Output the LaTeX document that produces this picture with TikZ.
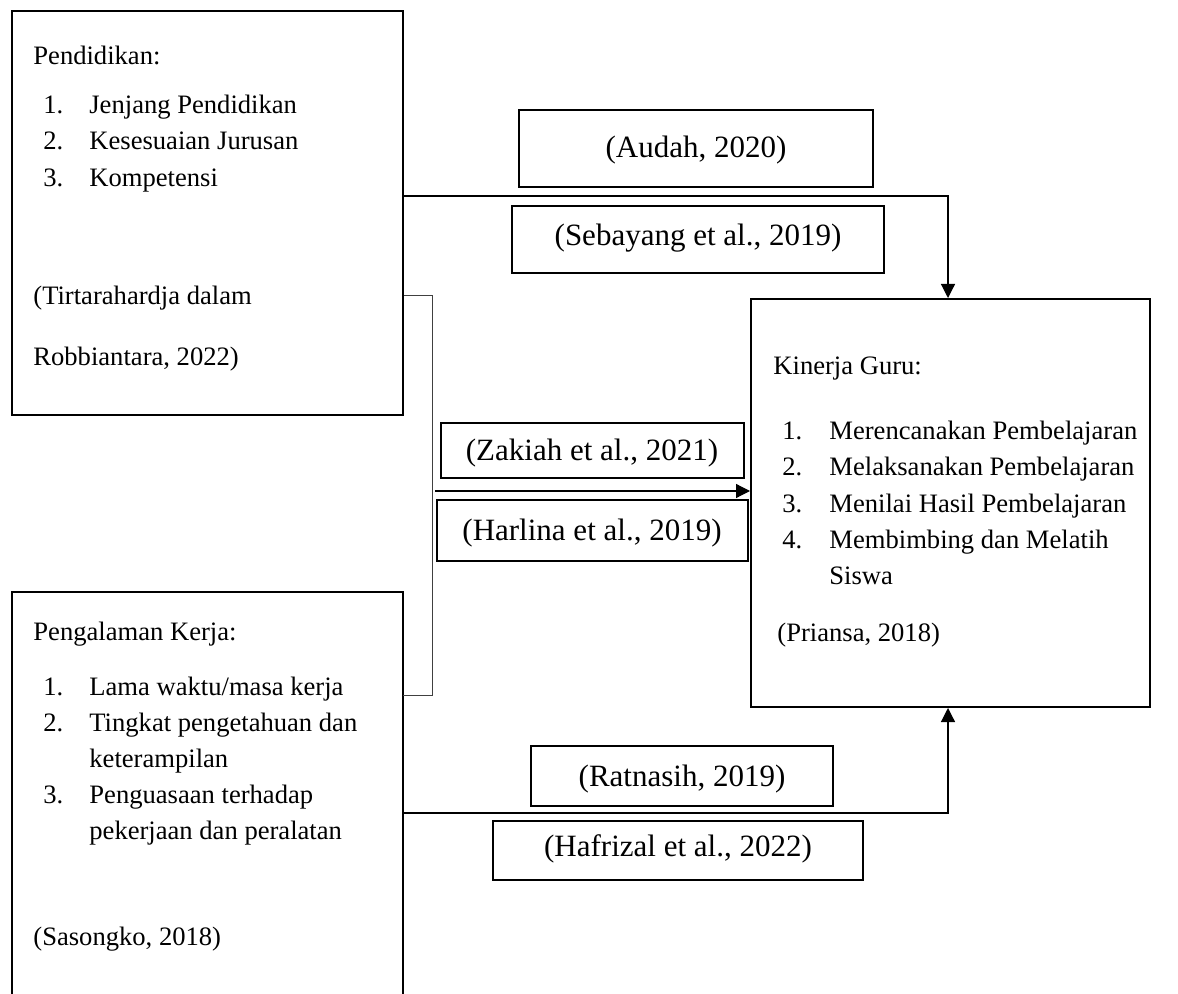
\documentclass[tikz,border=0pt]{standalone}
\usepackage{fontspec}
\setmainfont{Liberation Serif}
\usetikzlibrary{arrows.meta,fit}

\tikzset{
  box/.style={draw, line width=1pt, inner sep=0pt},
  txt/.style={anchor=base west, inner sep=0pt, font=\fontsize{13.3}{16}\selectfont},
  reftxt/.style={anchor=base, inner sep=0pt, font=\fontsize{15.5}{18}\selectfont},
  conn/.style={line width=0.6pt, -{Triangle[length=7pt,width=7pt]}},
}

\begin{document}
\begin{tikzpicture}[x=0.5pt, y=-0.5pt]
%
	\useasboundingbox (0,0) rectangle (1178,994);
%
	% variabel X1
	\node[box, fit={(12,11) (403,415)}] (pend) {};
	\node[txt] (pendjudul) at (33,65) {Pendidikan:};
	\node[txt] (pendn1) at (43,113.5) {1.};
	\node[txt] (pendi1) at (89,113.5) {Jenjang Pendidikan};
	\node[txt] (pendn2) at (43,150) {2.};
	\node[txt] (pendi2) at (89,150) {Kesesuaian Jurusan};
	\node[txt] (pendn3) at (43,186.5) {3.};
	\node[txt] (pendi3) at (89,186.5) {Kompetensi};
	\node[txt] (pendsum1) at (33,305) {(Tirtarahardja dalam};
	\node[txt] (pendsum2) at (33,366) {Robbiantara, 2022)};
%
	% variabel X2
	\node[inner sep=0pt, fit={(12,592) (403,994)}] (peng) {};
	\draw[line width=1pt] (peng.south west) -- (peng.north west) -- (peng.north east) -- (peng.south east);
	\node[txt] (pengjudul) at (33,640) {Pengalaman Kerja:};
	\node[txt] (pengn1) at (43,695) {1.};
	\node[txt] (pengi1) at (89,695) {Lama waktu/masa kerja};
	\node[txt] (pengn2) at (43,731) {2.};
	\node[txt] (pengi2) at (89,731) {Tingkat pengetahuan dan};
	\node[txt] (pengi2b) at (89,767) {keterampilan};
	\node[txt] (pengn3) at (43,803) {3.};
	\node[txt] (pengi3) at (89,803) {Penguasaan terhadap};
	\node[txt] (pengi3b) at (89,839) {pekerjaan dan peralatan};
	\node[txt] (pengsum) at (33,945) {(Sasongko, 2018)};
%
	% variabel Y
	\node[box, fit={(751,299) (1150,707)}] (kin) {};
	\node[txt] (kinjudul) at (773,375) {Kinerja Guru:};
	\node[txt] (kinn1) at (782,440) {1.};
	\node[txt] (kini1) at (829,440) {Merencanakan Pembelajaran};
	\node[txt] (kinn2) at (782,476) {2.};
	\node[txt] (kini2) at (829,476) {Melaksanakan Pembelajaran};
	\node[txt] (kinn3) at (782,512) {3.};
	\node[txt] (kini3) at (829,512) {Menilai Hasil Pembelajaran};
	\node[txt] (kinn4) at (782,548) {4.};
	\node[txt] (kini4) at (829,548) {Membimbing dan Melatih};
	\node[txt] (kini4b) at (829,584) {Siswa};
	\node[txt] (kinsum) at (777,641) {(Priansa, 2018)};
%
	% rujukan
	\node[box, fit={(519,110) (873,187)}] (audah) {};
	\node[reftxt] (audahtxt) at (696,158) {(Audah, 2020)};
	\node[box, fit={(512,206) (884,273)}] (sebayang) {};
	\node[reftxt] (sebayangtxt) at (698,246) {(Sebayang et al., 2019)};
	\node[box, fit={(441,423) (744,478)}] (zakiah) {};
	\node[reftxt] (zakiahtxt) at (592,461) {(Zakiah et al., 2021)};
	\node[box, fit={(437,500) (748,561)}] (harlina) {};
	\node[reftxt] (harlinatxt) at (592,540) {(Harlina et al., 2019)};
	\node[box, fit={(531,746) (833,806)}] (ratnasih) {};
	\node[reftxt] (ratnasihtxt) at (682,786) {(Ratnasih, 2019)};
	\node[box, fit={(493,821) (863,880)}] (hafrizal) {};
	\node[reftxt] (hafrizaltxt) at (678,856) {(Hafrizal et al., 2022)};
%
	% garis
	\coordinate (atas) at (948,196);
	\coordinate (bawah) at (948,813);
	\coordinate (kurungatas) at (432,296);
	\coordinate (kurungbawah) at (432,695);
	\coordinate (tengah) at (435,491);
	\draw[conn] (pend.east |- atas) -- (atas) -- (kin.north -| atas);
	\draw[line width=0.5pt, black!75] (pend.east |- kurungatas) -- (kurungatas) -- (kurungbawah) -- (peng.east |- kurungbawah);
	\draw[conn] (tengah) -- (kin.west |- tengah);
	\draw[conn] (peng.east |- bawah) -- (bawah) -- (kin.south -| bawah);
\end{tikzpicture}
\end{document}
